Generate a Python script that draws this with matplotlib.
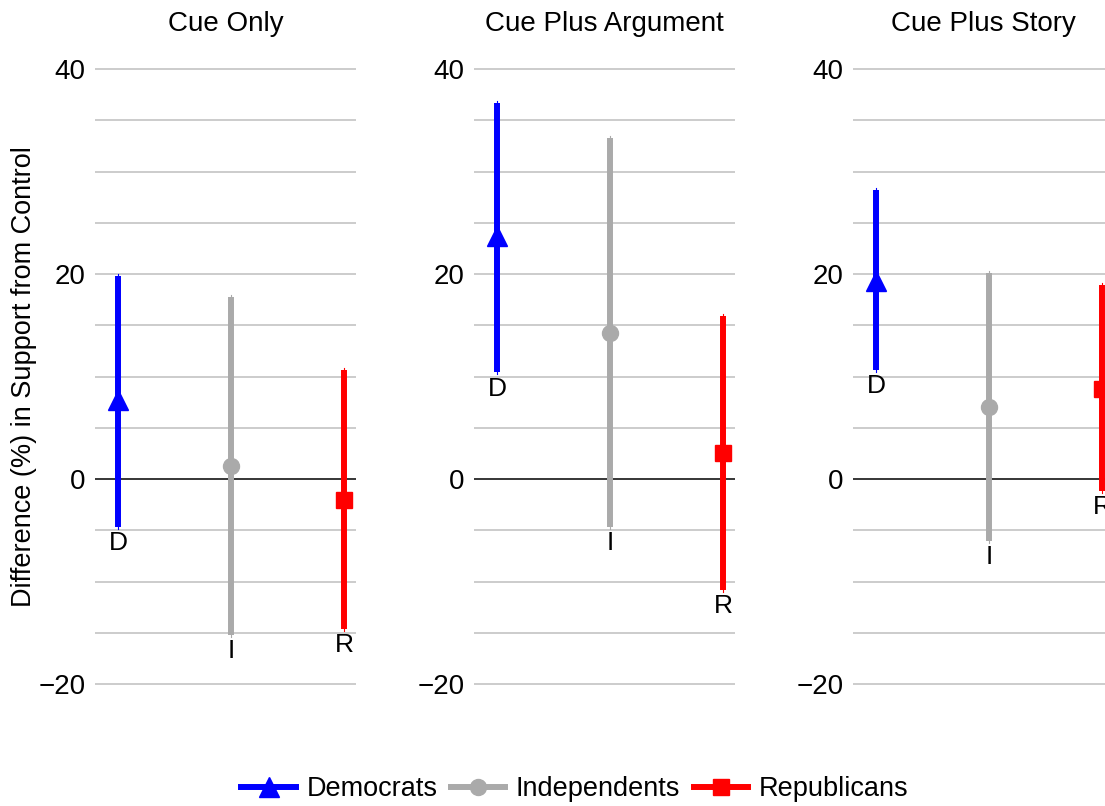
import numpy as np
import matplotlib.pyplot as plt

plt.rcParams['font.family'] = ['Liberation Sans', 'DejaVu Sans']

panels = ['Cue Only', 'Cue Plus Argument', 'Cue Plus Story']
groups = ['Democrats', 'Independents', 'Republicans']
short = ['D', 'I', 'R']
colors = ['#0000FF', '#AAAAAA', '#FF0000']
markers = ['^', 'o', 's']
msizes = [14, 11.5, 11]

# estimates, lower CI, upper CI  (rows: panels, cols: D, I, R)
est = np.array([[7.7, 1.3, -2.0],
                [23.7, 14.2, 2.5],
                [19.3, 7.0, 8.8]])
lower = np.array([[-4.7, -15.2, -14.6],
                  [10.4, -4.7, -10.8],
                  [10.6, -6.0, -1.2]])
upper = np.array([[19.8, 17.8, 10.6],
                  [36.7, 33.3, 15.9],
                  [28.2, 20.1, 18.9]])

W, H = 1105, 806
fig = plt.figure(figsize=(W / 100, H / 100), dpi=100)

fs = 20
ylo, yhi = -23, 43
ax_bottom = 91.25
ax_height = 676.5
ax_width = 261
lefts = [95, 474, 853]

xpos = np.array([1, 2, 3])
handles = []

for p, name in enumerate(panels):
    ax = fig.add_axes([lefts[p] / W, ax_bottom / H, ax_width / W, ax_height / H])
    for s in ax.spines.values():
        s.set_visible(False)
    ax.set_xlim(0.796, 3.106)
    ax.set_ylim(ylo, yhi)
    for g in np.arange(-20, 41, 5):
        if g == 0:
            ax.axhline(g, color='black', lw=1.1, zorder=1)
        else:
            ax.axhline(g, color='#C8C8C8', lw=1.3, zorder=1)
    for k in range(3):
        ax.plot([xpos[k], xpos[k]], [lower[p, k], upper[p, k]], color=colors[k],
                lw=4.3, solid_capstyle='butt', zorder=3)
        ax.plot([xpos[k], xpos[k]], [lower[p, k] - 0.2, upper[p, k] + 0.2], color=colors[k],
                lw=0.8, zorder=3)
        h, = ax.plot(xpos[k], est[p, k], marker=markers[k], ms=msizes[k], color=colors[k],
                     mec=colors[k], zorder=4, ls='-', lw=4.3)
        if p == 0:
            handles.append(h)
        ax.text(xpos[k], lower[p, k] - 0.4, short[k], ha='center', va='top',
                fontsize=fs - 1, zorder=5)
    ax.set_xticks([])
    ax.set_yticks([-20, 0, 20, 40])
    ax.set_yticklabels(['\u221220', '0', '20', '40'])
    ax.tick_params(axis='y', length=0, pad=7, labelsize=fs)
    ax.set_title(name, fontsize=fs, pad=5)
    if p == 0:
        ax.set_ylabel('Difference (%) in Support from Control', fontsize=fs - 0.5, labelpad=0.5)

fig.legend(handles, groups, loc='center', bbox_to_anchor=(575 / W, 17 / H), ncol=3,
           frameon=False, fontsize=fs - 0.5, handlelength=2.0, columnspacing=0.5,
           handletextpad=0.4)

plt.savefig('out.png', dpi=100)
plt.close()
